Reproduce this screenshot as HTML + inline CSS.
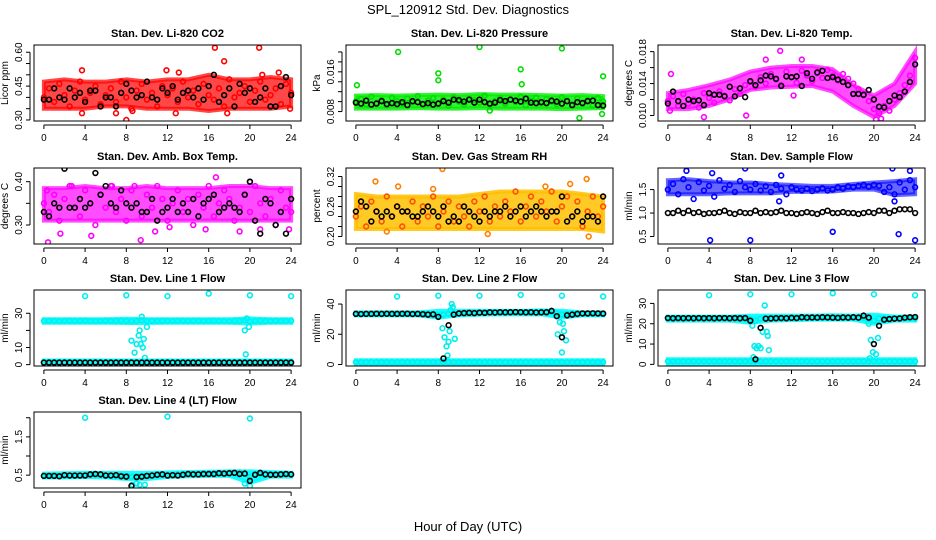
<!DOCTYPE html>
<html><head><meta charset="utf-8">
<style>
html,body{margin:0;padding:0;background:#fff;}
svg{display:block;font-family:"Liberation Sans",Arial,sans-serif;}
</style></head>
<body>
<svg id="chart" width="936" height="540" viewBox="0 0 936 540" xmlns="http://www.w3.org/2000/svg">
<text x="468" y="14" text-anchor="middle" font-size="13">SPL_120912  Std. Dev. Diagnostics</text>
<text x="468" y="531" text-anchor="middle" font-size="13">Hour of Day (UTC)</text>
</svg>
<script>
// ---- shared x categories ----
const hours = [0,0.5,1,1.5,2,2.5,3,3.5,4,4.5,5,5.5,6,6.5,7,7.5,8,8.5,9,9.5,10,10.5,11,11.5,12,12.5,13,13.5,14,14.5,15,15.5,16,16.5,17,17.5,18,18.5,19,19.5,20,20.5,21,21.5,22,22.5,23,23.5,24];
const bandHours = [0,2,4,6,8,10,12,14,16,18,20,22,24];
const xTicks = [0,4,8,12,16,20,24];

// ---- CO2 ----
const co2Main = [.40,.44,.38,.46,.41,.36,.43,.47,.39,.42,.45,.37,.41,.44,.38,.47,.40,.35,.43,.46,.39,.42,.36,.45,.41,.44,.38,.47,.40,.43,.37,.46,.41,.39,.44,.36,.48,.40,.42,.45,.38,.43,.47,.39,.41,.44,.37,.46,.42];
const co2Lo = [.35,.35,.35,.36,.36,.35,.35,.35,.34,.35,.35,.35,.36];
const co2Hi = [.47,.48,.47,.47,.48,.47,.48,.48,.50,.48,.48,.49,.48];
const co2Black = [.39,.39,.44,.40,.39,.44,.40,.42,.38,.43,.43,.36,.40,.40,.36,.42,.46,.43,.40,.41,.47,.40,.39,.44,.42,.45,.39,.42,.43,.40,.44,.39,.45,.50,.38,.41,.44,.36,.46,.42,.44,.38,.40,.44,.36,.36,.45,.49,.41];
const co2OutX = [3.7,3.7,8,8.6,11.9,12.8,13.1,16.6,17.5,17.8,20.9,21.2,22.8,23.9,7.0];
const co2OutY = [.52,.33,.30,.34,.52,.33,.51,.62,.56,.33,.62,.50,.51,.35,.33];

// ---- Pressure ----
const presMain = [.0100,.0105,.0095,.0110,.0098,.0103,.0093,.0108,.0101,.0096,.0106,.0099,.0111,.0094,.0102,.0107,.0097,.0104,.0092,.0109,.0100,.0095,.0106,.0103,.0098,.0112,.0094,.0101,.0107,.0096,.0104,.0099,.0110,.0093,.0102,.0108,.0097,.0105,.0100,.0095,.0109,.0101,.0094,.0106,.0098,.0103,.0092,.0107,.0100];
const presLo = [.0086,.0086,.0086,.0087,.0086,.0086,.0087,.0086,.0086,.0086,.0085,.0086,.0087];
const presHi = [.0112,.0113,.0112,.0113,.0114,.0113,.0115,.0114,.0114,.0113,.0112,.0113,.0111];
const presBlack = [.0098,.0096,.0102,.0094,.0096,.0101,.0095,.0097,.0095,.0099,.0093,.0101,.0099,.0095,.0097,.0094,.0096,.0101,.0098,.0104,.0103,.0100,.0104,.0098,.0104,.0099,.0096,.0098,.0103,.0101,.0104,.0102,.0100,.0106,.0098,.0097,.0099,.0097,.0102,.0100,.0096,.0101,.0093,.0099,.0097,.0101,.0102,.0093,.0092];
const presOutX = [0.1,4.1,8,8,12,16,16.1,20,24,13,21.7,23.9];
const presOutY = [.0133,.0200,.0157,.0143,.0210,.0165,.0135,.0207,.0151,.0082,.0067,.0075];

// ---- Li-820 Temp ----
const tempMain = [.0118,.0124,.0112,.0127,.0115,.0120,.0110,.0128,.0122,.0116,.0130,.0125,.0119,.0133,.0127,.0138,.0142,.0136,.0148,.0140,.0152,.0145,.0138,.0155,.0148,.0141,.0156,.0150,.0143,.0153,.0147,.0157,.0150,.0144,.0152,.0146,.0140,.0133,.0125,.0118,.0108,.0103,.0112,.0106,.0120,.0128,.0138,.0150,.0172];
const tempLo = [.0108,.0108,.0112,.0120,.0132,.0135,.0136,.0137,.0130,.0112,.0098,.0112,.0140];
const tempHi = [.0128,.0132,.0138,.0145,.0155,.0160,.0162,.0162,.0158,.0138,.0125,.0140,.0180];
const tempBlack = [.0115,.0130,.0118,.0112,.0120,.0118,.0119,.0113,.0128,.0126,.0126,.0124,.0136,.0124,.0134,.0123,.0143,.0138,.0144,.0150,.0149,.0146,.0137,.0149,.0148,.0149,.0137,.0153,.0146,.0154,.0156,.0147,.0148,.0145,.0142,.0138,.0127,.0127,.0126,.0132,.0120,.0111,.0110,.0118,.0125,.0123,.0130,.0142,.0164];
const tempOutX = [0.3,0.2,3.5,7.6,9.5,10.9,13,12.2,20.2,20.7];
const tempOutY = [.0152,.0106,.0098,.0100,.0170,.0181,.0170,.0125,.0095,.0096];

// ---- Amb Box Temp ----
const ambMain = [.35,.33,.37,.31,.36,.39,.34,.32,.38,.35,.30,.37,.34,.39,.33,.36,.31,.38,.35,.32,.37,.34,.39,.36,.31,.35,.38,.33,.36,.30,.37,.34,.39,.32,.35,.38,.36,.31,.34,.37,.33,.39,.35,.32,.36,.30,.38,.34,.33];
const ambLo = [.31,.31,.31,.31,.31,.31,.31,.31,.31,.31,.31,.31,.31];
const ambHi = [.385,.385,.39,.385,.385,.39,.385,.385,.385,.39,.39,.385,.385];
const ambBlack = [.33,.32,.35,.34,.43,.34,.34,.36,.34,.35,.42,.37,.39,.35,.34,.38,.35,.34,.35,.33,.33,.36,.31,.33,.34,.36,.33,.35,.33,.36,.32,.35,.36,.37,.33,.34,.35,.34,.33,.37,.40,.31,.28,.36,.35,.30,.33,.28,.36];
const ambOutX = [0.3,0.4,1.6,4.6,9.4,2.7,6.6,12.2,16.7,20,10.8,21,23.8,15.7,19,8.8];
const ambOutY = [.38,.26,.28,.275,.265,.39,.39,.295,.41,.40,.285,.29,.29,.29,.285,.39];

// ---- Gas Stream RH ----
const rhMain = [.24,.26,.22,.27,.25,.23,.28,.24,.26,.22,.25,.27,.23,.26,.24,.28,.22,.25,.27,.23,.26,.24,.22,.27,.25,.28,.23,.26,.24,.27,.25,.29,.23,.26,.28,.24,.27,.25,.29,.23,.26,.28,.24,.27,.22,.25,.28,.24,.26];
const rhLo = [.215,.215,.215,.215,.215,.215,.215,.215,.215,.215,.215,.215,.21];
const rhHi = [.285,.28,.28,.28,.28,.28,.285,.29,.29,.29,.29,.285,.28];
const rhBlack = [.25,.27,.26,.23,.25,.24,.25,.24,.26,.25,.25,.24,.24,.25,.26,.25,.24,.26,.23,.24,.23,.26,.25,.24,.23,.25,.24,.25,.25,.26,.24,.25,.26,.24,.25,.26,.25,.24,.25,.25,.28,.23,.24,.25,.23,.24,.24,.23,.28];
const rhOutX = [8.4,1.9,22.4,12.8,22.6,4.1,7.5,3.0,20.8,18.4];
const rhOutY = [.335,.31,.315,.205,.20,.30,.295,.21,.305,.30];

// ---- Sample Flow ----
const sfMain = [1.50,1.62,1.40,1.72,1.55,1.30,1.66,1.48,1.58,1.35,1.70,1.52,1.60,1.45,1.68,1.55,1.50,1.62,1.48,1.57,1.45,1.60,1.52,1.40,1.55,1.50,1.48,1.52,1.47,1.50,1.53,1.48,1.50,1.55,1.52,1.57,1.55,1.58,1.60,1.56,1.60,1.58,1.45,1.55,1.40,1.65,1.50,1.70,1.55];
const sfLo = [1.40,1.40,1.40,1.42,1.42,1.42,1.45,1.45,1.46,1.50,1.50,1.38,1.40];
const sfHi = [1.70,1.72,1.68,1.65,1.65,1.62,1.60,1.58,1.58,1.62,1.65,1.68,1.72];
const sfBlack = [1.00,1.00,1.05,1.00,1.05,1.00,1.02,0.98,1.00,1.00,1.02,1.05,1.00,0.98,1.02,1.00,1.00,1.05,1.00,1.02,1.00,1.02,1.05,1.00,1.00,0.98,1.00,1.02,1.00,0.98,1.02,1.05,1.00,1.00,1.02,1.00,1.00,0.98,1.00,1.02,1.00,1.05,1.05,1.00,1.05,1.08,1.08,1.08,1.00];
const sfOutX = [4.1,8,16,24,22.4,7.5,21.8,23.5,4.3,11,1.8,22,10.8];
const sfOutY = [.42,.42,.60,.42,.55,1.95,1.95,1.90,1.85,1.80,1.90,1.25,1.25];

// ---- Line 1 ----
const l1Top = [25.5,25.5,25.6,25.4,25.5,25.6,25.5,25.5,25.6,25.5,25.4,25.5,25.6,25.5,25.5,25.6,25.5,25.4,25.5,25.8,25.5,25.6,25.5,25.5,25.6,25.5,25.5,25.6,25.5,25.5,25.6,25.5,25.5,25.6,25.5,25.5,25.4,25.5,25.6,25.8,25.2,25.5,25.6,25.5,25.5,25.6,25.5,25.5,25.6];
const l1Bottom = [1.5,1.5,1.5,1.5,1.5,1.5,1.5,1.5,1.5,1.5,1.5,1.5,1.5,1.5,1.5,1.5,1.5,1.5,1.5,1.5,1.5,1.5,1.5,1.5,1.5,1.5,1.5,1.5,1.5,1.5,1.5,1.5,1.5,1.5,1.5,1.5,1.5,1.5,1.5,1.5,1.5,1.5,1.5,1.5,1.5,1.5,1.5,1.5,1.5];
const l1Black = [1.2,1.2,1.2,1.2,1.2,1.2,1.2,1.2,1.2,1.2,1.2,1.2,1.2,1.2,1.2,1.2,1.2,1.2,1.2,1.2,1.2,1.2,1.2,1.2,1.2,1.2,1.2,1.2,1.2,1.2,1.2,1.2,1.2,1.2,1.2,1.2,1.2,1.2,1.2,1.2,1.2,1.2,1.2,1.2,1.2,1.2,1.2,1.2,1.2];
const l1Lo = [24.5,24.5,24.5,24.5,24.3,24.3,24.5,24.5,24.5,24.5,24.0,24.5,24.5];
const l1Hi = [26.5,26.5,26.5,26.5,26.8,26.5,26.5,26.5,26.5,26.5,27.0,26.5,26.5];
const l1BotLo = [0.6,0.6,0.6,0.6,0.6,0.6,0.6,0.6,0.6,0.6,0.6,0.6,0.6];
const l1BotHi = [2.4,2.4,2.4,2.4,2.4,2.4,2.4,2.4,2.4,2.4,2.4,2.4,2.4];
const l1OutX = [4,8,12,16,20,24,8.5,8.8,9,9.2,9.3,9.4,9.6,9.7,9.8,9.5,10,19.5,19.6,19.7,19.9];
const l1OutY = [40,40.5,40,41.5,40.5,40,14,7,12,17,20,12,10,15,4,28,22,20,6,27,22];

// ---- Line 2 ----
const l2Top = [33.5,33.4,33.5,33.6,33.5,33.4,33.5,33.6,33.5,33.4,33.5,33.6,33.5,33.5,33.4,33.2,32.5,33.0,33.5,34.0,34.0,34.2,34.0,34.2,34.3,34.2,34.4,34.3,34.5,34.4,34.5,34.6,34.5,34.4,34.5,34.6,34.5,34.4,35.0,34.0,33.0,33.5,33.6,33.5,33.6,33.5,33.6,33.5,33.6];
const l2Bottom = [1.5,1.5,1.5,1.5,1.5,1.5,1.5,1.5,1.5,1.5,1.5,1.5,1.5,1.5,1.5,1.5,1.5,1.5,1.5,1.5,1.5,1.5,1.5,1.5,1.5,1.5,1.5,1.5,1.5,1.5,1.5,1.5,1.5,1.5,1.5,1.5,1.5,1.5,1.5,1.5,1.5,1.5,1.5,1.5,1.5,1.5,1.5,1.5,1.5];
const l2Black = [33.5,33.4,33.5,33.5,33.6,33.5,33.6,33.5,33.5,33.6,33.6,33.4,33.5,33.3,33.0,33.2,31.5,4.0,26.0,33.0,33.8,34.0,34.2,34.0,34.3,34.2,34.5,34.4,34.6,34.5,34.6,34.7,34.6,34.5,34.6,34.4,34.5,34.6,35.5,32.0,18.0,32.5,33.0,33.5,33.8,33.8,33.9,33.8,33.7];
const l2Lo = [32.5,32.5,32.5,32.5,31.0,32.5,33.0,33.2,33.2,33.2,31.0,32.5,32.5];
const l2Hi = [34.5,34.5,34.5,34.5,35.5,35.5,35.5,35.5,35.5,35.8,35.5,34.5,34.5];
const l2BotLo = [0.3,0.3,0.3,0.3,0.3,0.3,0.3,0.3,0.3,0.3,0.3,0.3,0.3];
const l2BotHi = [2.8,2.8,2.8,2.8,2.8,2.8,2.8,2.8,2.8,2.8,2.8,2.8,2.8];
const l2OutX = [4,8,12,16,20,24,8.4,8.6,8.8,9,9.1,9.2,9.3,9.4,8.9,9.6,19.6,19.8,20.0,20.2,20.4,20.1];
const l2OutY = [45,45.5,45.5,46,45.5,45,24,18,12,15,22,36,40,38,6,17,20,28,8,22,16,27];

// ---- Line 3 ----
const l3Top = [22.5,22.4,22.5,22.6,22.5,22.4,22.5,22.6,22.5,22.4,22.5,22.6,22.5,22.5,22.4,22.5,22.0,21.5,22.5,22.8,22.6,22.7,22.6,22.8,22.9,22.8,22.7,22.8,22.9,23.0,22.9,23.0,23.0,22.9,23.0,22.9,23.0,22.9,23.0,22.5,21.5,22.5,22.6,22.5,22.6,22.7,22.6,22.7,22.6];
const l3Bottom = [1.5,1.5,1.5,1.5,1.5,1.5,1.5,1.5,1.5,1.5,1.5,1.5,1.5,1.5,1.5,1.5,1.5,1.5,1.5,1.5,1.5,1.5,1.5,1.5,1.5,1.5,1.5,1.5,1.5,1.5,1.5,1.5,1.5,1.5,1.5,1.5,1.5,1.5,1.5,1.5,1.5,1.5,1.5,1.5,1.5,1.5,1.5,1.5,1.5];
const l3Black = [22.8,22.7,22.8,22.7,22.8,22.7,22.8,22.7,22.8,22.7,22.8,22.8,22.7,22.8,22.7,22.8,21.5,2.5,18.0,22.5,22.6,22.7,22.8,22.7,22.9,22.8,23.2,23.0,23.1,23.0,23.2,23.1,23.0,22.9,23.1,23.0,23.2,23.0,24.0,23.0,10.0,19.0,22.0,22.3,22.5,22.6,23.0,23.2,23.3];
const l3Lo = [21.5,21.5,21.5,21.5,20.5,21.5,21.8,22.0,22.0,22.0,20.0,21.5,21.5];
const l3Hi = [23.5,23.5,23.5,23.5,24.0,24.0,24.0,24.0,24.2,24.0,24.5,23.5,23.5];
const l3BotLo = [0.4,0.4,0.4,0.4,0.4,0.4,0.4,0.4,0.4,0.4,0.4,0.4,0.4];
const l3BotHi = [2.5,2.5,2.5,2.5,2.5,2.5,2.5,2.5,2.5,2.5,2.5,2.5,2.5];
const l3OutX = [4,8,12,16,20,24,8.2,8.4,8.6,8.8,9.0,9.2,9.4,9.6,9.7,9.8,8.3,19.5,19.7,19.9,20.2,20.4,19.6];
const l3OutY = [34,34.5,34.5,35,34.5,34,19,9,8,9,8,16,29,16,14,7,3.5,20,12,6,5,13,3];

// ---- Line 4 ----
const l4Top = [.48,.48,.49,.48,.50,.49,.48,.49,.50,.51,.52,.51,.50,.49,.50,.49,.47,.45,.46,.47,.49,.50,.51,.52,.51,.51,.52,.52,.54,.53,.53,.54,.54,.54,.55,.55,.56,.56,.57,.55,.45,.52,.53,.52,.51,.52,.52,.53,.52];
const l4Black = [.48,.48,.48,.47,.50,.49,.49,.49,.49,.52,.53,.52,.49,.49,.50,.47,.46,.22,.45,.46,.48,.49,.51,.52,.49,.50,.49,.51,.53,.52,.52,.53,.53,.53,.55,.54,.55,.56,.53,.54,.35,.51,.56,.52,.51,.51,.52,.53,.52];
const l4Lo = [.44,.44,.45,.44,.40,.40,.45,.47,.48,.48,.30,.46,.46];
const l4Hi = [.54,.55,.56,.56,.56,.56,.57,.58,.59,.60,.60,.58,.56];
const l4OutX = [4,12,20,8.6,9.3,9.8,19.5,20.0,9.0];
const l4OutY = [2.0,2.03,1.98,.25,.25,.25,.28,.22,.28];

// ---- panels (layout/axis configuration) ----
const colLeft = [34, 346, 658];
const rowTop = [45, 168, 290, 412];
const BOXW = 267, BOXH = 76;
const panels = [
 {name:'co2',title:'Stan. Dev. Li-820 CO2',ylab:'Licor ppm',c:0,r:0,ymin:.2955,ymax:.632,ticks:[.30,.35,.40,.45,.50,.55,.60],labels:['0.30','','','0.45','','','0.60'],
  bands:[[co2Lo,co2Hi,'#ff0000',0.72]],series:[[hours,co2Main,'#ff0000'],[co2OutX,co2OutY,'#ff0000'],[hours,co2Black,'#000000']]},
 {name:'pressure',title:'Stan. Dev. Li-820 Pressure',ylab:'kPa',c:1,r:0,ymin:.0061,ymax:.0214,ticks:[.008,.010,.012,.014,.016,.018,.020],labels:['0.008','','','','0.016','',''],
  bands:[[presLo,presHi,'#00ee00',0.8]],series:[[hours,presMain,'#00dd00'],[presOutX,presOutY,'#00dd00'],[hours,presBlack,'#000000']]},
 {name:'li820-temp',title:'Stan. Dev. Li-820 Temp.',ylab:'degrees C',c:2,r:0,ymin:.00931,ymax:.01883,ticks:[.010,.012,.014,.016,.018],labels:['0.010','','0.014','','0.018'],
  bands:[[tempLo,tempHi,'#ff00ff',0.7]],series:[[hours,tempMain,'#ff00ff'],[tempOutX,tempOutY,'#ff00ff'],[hours,tempBlack,'#000000']]},
 {name:'amb-box-temp',title:'Stan. Dev. Amb. Box Temp.',ylab:'degrees C',c:0,r:1,ymin:.2561,ymax:.4316,ticks:[.30,.35,.40],labels:['0.30','','0.40'],
  bands:[[ambLo,ambHi,'#ff00ff',0.7]],series:[[hours,ambMain,'#ff00ff'],[ambOutX,ambOutY,'#ff00ff'],[hours,ambBlack,'#000000']]},
 {name:'gas-rh',title:'Stan. Dev. Gas Stream RH',ylab:'percent',c:1,r:1,ymin:.185,ymax:.337,ticks:[.20,.22,.24,.26,.28,.30,.32],labels:['0.20','','','0.26','','','0.32'],
  bands:[[rhLo,rhHi,'#ffc000',0.85]],series:[[hours,rhMain,'#ff5000'],[rhOutX,rhOutY,'#ff8000'],[hours,rhBlack,'#000000']]},
 {name:'sample-flow',title:'Stan. Dev. Sample Flow',ylab:'ml/min',c:2,r:1,ymin:.34,ymax:1.96,ticks:[.5,1.0,1.5],labels:['0.5','1.0','1.5'],
  bands:[[sfLo,sfHi,'#0000ff',0.6]],series:[[hours,sfMain,'#0000ff'],[sfOutX,sfOutY,'#0000ff'],[hours,sfBlack,'#000000']]},
 {name:'line1-flow',title:'Stan. Dev. Line 1 Flow',ylab:'ml/min',c:0,r:2,ymin:-0.8,ymax:43.6,ticks:[0,10,20,30],labels:['0','10','','30'],
  bands:[[l1Lo,l1Hi,'#00ffff',0.9],[l1BotLo,l1BotHi,'#00ffff',0.9]],series:[[hours,l1Top,'#00eeee'],[hours,l1Bottom,'#00eeee'],[l1OutX,l1OutY,'#00eeee'],[hours,l1Black,'#000000']]},
 {name:'line2-flow',title:'Stan. Dev. Line 2 Flow',ylab:'ml/min',c:1,r:2,ymin:-1.0,ymax:49.3,ticks:[0,20,40],labels:['0','20','40'],
  bands:[[l2Lo,l2Hi,'#00ffff',0.9],[l2BotLo,l2BotHi,'#00ffff',0.9]],series:[[hours,l2Top,'#00eeee'],[hours,l2Bottom,'#00eeee'],[l2OutX,l2OutY,'#00eeee'],[hours,l2Black,'#000000']]},
 {name:'line3-flow',title:'Stan. Dev. Line 3 Flow',ylab:'ml/min',c:2,r:2,ymin:-0.8,ymax:36.6,ticks:[0,10,20,30],labels:['0','10','20','30'],
  bands:[[l3Lo,l3Hi,'#00ffff',0.9],[l3BotLo,l3BotHi,'#00ffff',0.9]],series:[[hours,l3Top,'#00eeee'],[hours,l3Bottom,'#00eeee'],[l3OutX,l3OutY,'#00eeee'],[hours,l3Black,'#000000']]},
 {name:'line4-flow',title:'Stan. Dev. Line 4 (LT) Flow',ylab:'ml/min',c:0,r:3,ymin:.164,ymax:2.15,ticks:[.5,1.0,1.5,2.0],labels:['0.5','','1.5',''],
  bands:[[l4Lo,l4Hi,'#00ffff',0.9]],series:[[hours,l4Top,'#00eeee'],[l4OutX,l4OutY,'#00eeee'],[hours,l4Black,'#000000']]}
];

const NS='http://www.w3.org/2000/svg';
const svg=document.getElementById('chart');
function mk(tag,attrs,parent){const e=document.createElementNS(NS,tag);for(const k in attrs)e.setAttribute(k,attrs[k]);(parent||svg).appendChild(e);return e;}

panels.forEach(p=>{
  const L=colLeft[p.c], T=rowTop[p.r];
  const xs=h=>L+(h+0.96)/25.92*BOXW;
  const ys=v=>T+BOXH-(v-p.ymin)/(p.ymax-p.ymin)*BOXH;
  const g=mk('g',{});
  
  
  const t=mk('text',{x:L+BOXW/2,y:T-8,'text-anchor':'middle','font-size':'11','font-weight':'bold'},g);
  t.textContent=p.title;
  
  
  const clip=mk('clipPath',{id:'clip-'+p.name},g);
  mk('rect',{x:L,y:T,width:BOXW,height:BOXH},clip);
  const plot=mk('g',{'clip-path':'url(#clip-'+p.name+')'},g);
  p.bands.forEach(b=>{
    const [lo,hi,col,op]=b;
    let pts=bandHours.map((h,i)=>xs(h)+','+ys(hi[i]));
    pts=pts.concat(bandHours.slice().reverse().map((h,i)=>xs(h)+','+ys(lo[bandHours.length-1-i])));
    const poly=mk('polygon',{points:pts.join(' '),fill:col,'fill-opacity':op,stroke:col,'stroke-width':4,'stroke-opacity':op},plot);
    
    
  });
  p.series.forEach(s=>{
    const [X,Y,col]=s;
    X.forEach((h,i)=>{
      const c=mk('circle',{cx:xs(h),cy:ys(Y[i]),r:2.4,fill:'none',stroke:col,'stroke-width':1.6},plot);
      
      
    });
  });
  const box=mk('rect',{x:L,y:T,width:BOXW,height:BOXH,fill:'none',stroke:'#000','stroke-width':1},g);
  
  
  mk('line',{x1:xs(0),x2:xs(24),y1:T+BOXH+4,y2:T+BOXH+4,stroke:'#000'},g);
  xTicks.forEach(h=>{
    mk('line',{x1:xs(h),x2:xs(h),y1:T+BOXH+4,y2:T+BOXH+8,stroke:'#000'},g);
    const tl=mk('text',{x:xs(h),y:T+BOXH+20,'text-anchor':'middle','font-size':'10'},g);
    tl.textContent=h;
    
    
  });
  const yTop=ys(p.ticks[p.ticks.length-1]), yBot=ys(p.ticks[0]);
  mk('line',{x1:L-4,x2:L-4,y1:yTop,y2:yBot,stroke:'#000'},g);
  p.ticks.forEach((v,i)=>{
    mk('line',{x1:L-8,x2:L-4,y1:ys(v),y2:ys(v),stroke:'#000'},g);
    if(p.labels[i]){
      const yl=mk('text',{x:0,y:0,'text-anchor':'middle','font-size':'10',transform:'translate('+(L-12)+','+ys(v)+') rotate(-90)'},g);
      yl.textContent=p.labels[i];
      
      
    }
  });
  const ya=mk('text',{x:0,y:0,'text-anchor':'middle','font-size':'10',transform:'translate('+(L-26)+','+(T+BOXH/2)+') rotate(-90)'},g);
  ya.textContent=p.ylab;
  
  
});
</script>
</body></html>
